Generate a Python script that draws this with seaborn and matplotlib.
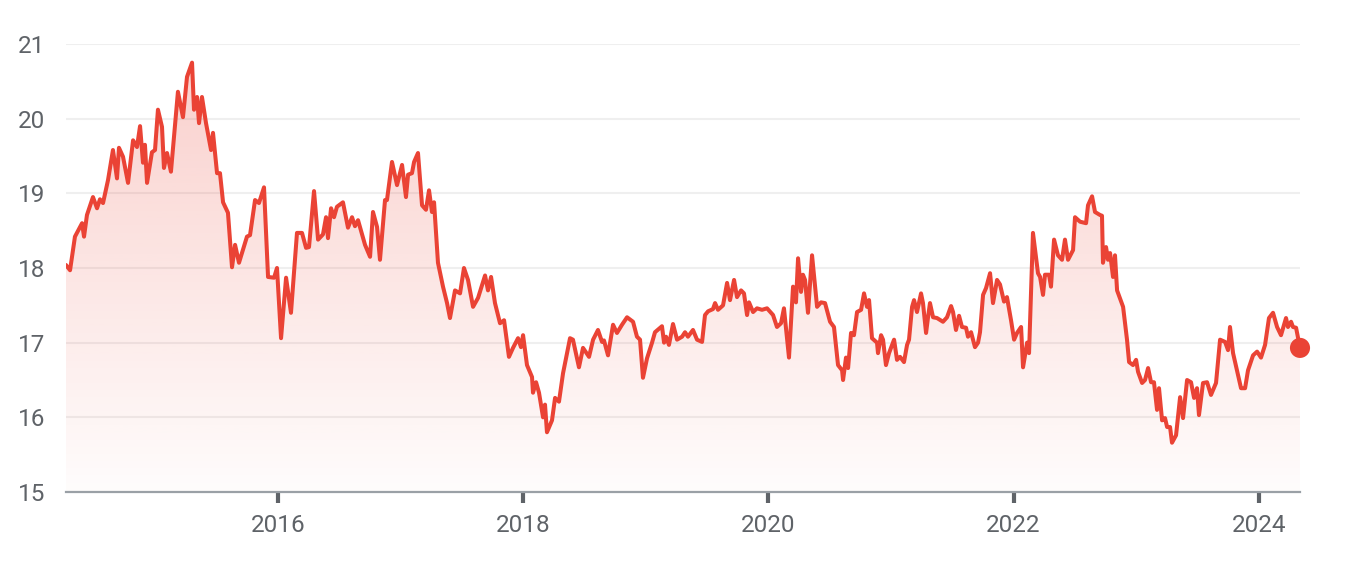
import matplotlib
matplotlib.use("Agg")
import matplotlib.pyplot as plt
import numpy as np
import pandas as pd
import seaborn as sns

years = [
    2014.271, 2014.304, 2014.344, 2014.402, 2014.418, 2014.442, 2014.491, 2014.524, 2014.548, 2014.573,
    2014.614, 2014.654, 2014.687, 2014.703, 2014.736, 2014.777, 2014.818, 2014.850, 2014.875, 2014.899,
    2014.915, 2014.932, 2014.972, 2014.997, 2015.021, 2015.054, 2015.070, 2015.095, 2015.127, 2015.184,
    2015.225, 2015.258, 2015.299, 2015.315, 2015.340, 2015.356, 2015.380, 2015.413, 2015.454, 2015.470,
    2015.503, 2015.527, 2015.552, 2015.592, 2015.625, 2015.650, 2015.682, 2015.747, 2015.772, 2015.813,
    2015.845, 2015.886, 2015.919, 2015.968, 2015.992, 2016.025, 2016.066, 2016.106, 2016.155, 2016.196,
    2016.229, 2016.253, 2016.294, 2016.327, 2016.367, 2016.392, 2016.408, 2016.433, 2016.457, 2016.481,
    2016.530, 2016.571, 2016.604, 2016.628, 2016.653, 2016.710, 2016.751, 2016.775, 2016.808, 2016.832,
    2016.873, 2016.889, 2016.930, 2016.971, 2017.012, 2017.044, 2017.061, 2017.093, 2017.110, 2017.142,
    2017.175, 2017.207, 2017.232, 2017.256, 2017.273, 2017.305, 2017.346, 2017.379, 2017.403, 2017.444,
    2017.485, 2017.517, 2017.550, 2017.591, 2017.632, 2017.689, 2017.713, 2017.738, 2017.770, 2017.811,
    2017.844, 2017.884, 2017.917, 2017.958, 2017.982, 2017.999, 2018.031, 2018.072, 2018.080, 2018.105,
    2018.129, 2018.162, 2018.178, 2018.194, 2018.235, 2018.260, 2018.292, 2018.325, 2018.382, 2018.406,
    2018.455, 2018.488, 2018.537, 2018.570, 2018.610, 2018.643, 2018.659, 2018.692, 2018.733, 2018.765,
    2018.806, 2018.847, 2018.896, 2018.928, 2018.953, 2018.977, 2019.010, 2019.051, 2019.075, 2019.132,
    2019.149, 2019.165, 2019.189, 2019.222, 2019.255, 2019.296, 2019.320, 2019.344, 2019.385, 2019.418,
    2019.459, 2019.483, 2019.508, 2019.548, 2019.565, 2019.589, 2019.630, 2019.663, 2019.687, 2019.720,
    2019.744, 2019.777, 2019.801, 2019.826, 2019.842, 2019.875, 2019.907, 2019.948, 2019.989, 2020.038,
    2020.070, 2020.103, 2020.127, 2020.168, 2020.201, 2020.225, 2020.242, 2020.266, 2020.282, 2020.299,
    2020.323, 2020.356, 2020.397, 2020.429, 2020.462, 2020.503, 2020.535, 2020.568, 2020.601, 2020.609,
    2020.633, 2020.650, 2020.674, 2020.698, 2020.723, 2020.756, 2020.780, 2020.804, 2020.821, 2020.845,
    2020.886, 2020.894, 2020.919, 2020.935, 2020.959, 2020.984, 2021.025, 2021.049, 2021.074, 2021.106,
    2021.131, 2021.147, 2021.172, 2021.188, 2021.212, 2021.245, 2021.261, 2021.286, 2021.302, 2021.318,
    2021.343, 2021.375, 2021.424, 2021.457, 2021.490, 2021.506, 2021.530, 2021.555, 2021.579, 2021.612,
    2021.628, 2021.653, 2021.685, 2021.710, 2021.726, 2021.751, 2021.775, 2021.808, 2021.832, 2021.865,
    2021.889, 2021.922, 2021.946, 2021.979, 2022.004, 2022.028, 2022.061, 2022.077, 2022.110, 2022.126,
    2022.158, 2022.199, 2022.216, 2022.240, 2022.256, 2022.289, 2022.305, 2022.330, 2022.362, 2022.395,
    2022.419, 2022.444, 2022.485, 2022.501, 2022.542, 2022.591, 2022.607, 2022.640, 2022.664, 2022.705,
    2022.721, 2022.729, 2022.754, 2022.770, 2022.787, 2022.811, 2022.827, 2022.844, 2022.893, 2022.925,
    2022.942, 2022.974, 2022.999, 2023.015, 2023.048, 2023.072, 2023.097, 2023.121, 2023.145, 2023.170,
    2023.186, 2023.211, 2023.235, 2023.252, 2023.276, 2023.292, 2023.325, 2023.358, 2023.382, 2023.415,
    2023.447, 2023.472, 2023.496, 2023.512, 2023.545, 2023.578, 2023.610, 2023.651, 2023.684, 2023.725,
    2023.749, 2023.765, 2023.790, 2023.822, 2023.855, 2023.888, 2023.912, 2023.953, 2023.986, 2024.018,
    2024.051, 2024.083, 2024.116, 2024.149, 2024.181, 2024.222, 2024.238, 2024.263, 2024.279, 2024.304,
    2024.336,
]

prices = [
    18.04, 17.97, 18.42, 18.60, 18.42, 18.71, 18.95, 18.80, 18.92, 18.87,
    19.18, 19.58, 19.20, 19.61, 19.49, 19.14, 19.71, 19.62, 19.90, 19.41,
    19.65, 19.14, 19.55, 19.58, 20.12, 19.89, 19.34, 19.54, 19.29, 20.36,
    20.02, 20.56, 20.75, 20.12, 20.29, 19.94, 20.29, 19.94, 19.58, 19.81,
    19.27, 19.27, 18.88, 18.74, 18.01, 18.31, 18.07, 18.42, 18.44, 18.91,
    18.87, 19.08, 17.88, 17.87, 18.00, 17.06, 17.87, 17.40, 18.47, 18.47,
    18.27, 18.28, 19.03, 18.38, 18.45, 18.68, 18.40, 18.80, 18.68, 18.82,
    18.88, 18.54, 18.68, 18.56, 18.64, 18.31, 18.15, 18.75, 18.55, 18.11,
    18.91, 18.91, 19.42, 19.11, 19.38, 18.95, 19.25, 19.27, 19.42, 19.54,
    18.84, 18.78, 19.04, 18.75, 18.88, 18.07, 17.75, 17.53, 17.33, 17.70,
    17.66, 18.00, 17.84, 17.48, 17.60, 17.90, 17.70, 17.88, 17.53, 17.26,
    17.30, 16.81, 16.93, 17.06, 16.94, 17.10, 16.70, 16.54, 16.33, 16.47,
    16.33, 16.00, 16.17, 15.80, 15.96, 16.26, 16.21, 16.59, 17.06, 17.04,
    16.67, 16.93, 16.81, 17.04, 17.17, 17.01, 17.03, 16.83, 17.24, 17.13,
    17.24, 17.34, 17.28, 17.08, 17.04, 16.53, 16.79, 17.00, 17.14, 17.22,
    17.00, 17.08, 16.97, 17.25, 17.04, 17.08, 17.14, 17.08, 17.17, 17.04,
    17.01, 17.37, 17.42, 17.45, 17.53, 17.44, 17.50, 17.80, 17.57, 17.84,
    17.61, 17.70, 17.66, 17.37, 17.54, 17.41, 17.46, 17.44, 17.46, 17.37,
    17.21, 17.26, 17.46, 16.80, 17.75, 17.54, 18.13, 17.68, 17.91, 17.84,
    17.40, 18.17, 17.48, 17.54, 17.53, 17.28, 17.21, 16.70, 16.63, 16.50,
    16.80, 16.66, 17.13, 17.10, 17.41, 17.44, 17.66, 17.48, 17.57, 17.06,
    17.00, 16.86, 17.10, 17.04, 16.70, 16.86, 17.04, 16.77, 16.81, 16.74,
    16.97, 17.04, 17.48, 17.57, 17.41, 17.66, 17.53, 17.13, 17.34, 17.53,
    17.34, 17.33, 17.28, 17.34, 17.49, 17.41, 17.17, 17.36, 17.21, 17.20,
    17.08, 17.14, 16.94, 17.00, 17.14, 17.64, 17.73, 17.93, 17.53, 17.84,
    17.78, 17.55, 17.61, 17.30, 17.04, 17.13, 17.21, 16.67, 17.00, 16.86,
    18.47, 17.93, 17.88, 17.64, 17.91, 17.91, 17.75, 18.38, 18.17, 18.11,
    18.38, 18.11, 18.24, 18.68, 18.62, 18.60, 18.84, 18.96, 18.75, 18.71,
    18.70, 18.07, 18.28, 18.11, 18.20, 17.88, 18.17, 17.70, 17.48, 17.04,
    16.74, 16.70, 16.77, 16.61, 16.46, 16.50, 16.66, 16.47, 16.47, 16.10,
    16.39, 15.96, 15.99, 15.87, 15.87, 15.66, 15.76, 16.27, 15.99, 16.50,
    16.47, 16.26, 16.39, 16.03, 16.46, 16.47, 16.30, 16.46, 17.04, 17.01,
    16.90, 17.21, 16.86, 16.63, 16.39, 16.39, 16.63, 16.83, 16.88, 16.80,
    16.97, 17.33, 17.40, 17.21, 17.10, 17.33, 17.21, 17.28, 17.21, 17.20,
    16.93,
]

x_ticks = [2016, 2018, 2020, 2022, 2024]
x_tick_labels = ["2016", "2018", "2020", "2022", "2024"]
y_ticks = [15, 16, 17, 18, 19, 20, 21]
y_tick_labels = ["15", "16", "17", "18", "19", "20", "21"]

RED = "#EA4335"
LABEL = "#5f6368"

sns.set_theme(style="white")
plt.rcParams["font.family"] = ["Roboto", "DejaVu Sans"]

df = pd.DataFrame({"year": years, "price": prices})

fig = plt.figure(figsize=(13.69, 5.80), dpi=100)
ax = fig.add_axes([66 / 1369, 1 - 492 / 580, (1300 - 66) / 1369, (492 - 44) / 580])

x0, x1 = years[0], years[-1]
ymin, ymax = 15, 21

# gradient fill under the curve
poly = ax.fill_between(df["year"], df["price"], ymin, color="none", lw=0)
top = max(prices)
n = 256
rgba = np.zeros((n, 1, 4))
rgba[..., 0] = 234 / 255
rgba[..., 1] = 67 / 255
rgba[..., 2] = 53 / 255
rgba[:, 0, 3] = np.linspace(0.25, 0.015, n)
im = ax.imshow(rgba, extent=[x0, x1, ymin, top], aspect="auto", origin="upper", zorder=1)
im.set_clip_path(poly.get_paths()[0], transform=ax.transData)

sns.lineplot(data=df, x="year", y="price", ax=ax, color=RED, linewidth=2.9, zorder=3,
             solid_joinstyle="round", solid_capstyle="round")
sns.scatterplot(x=[years[-1]], y=[prices[-1]], ax=ax, color=RED, s=210, edgecolor="none",
                zorder=4, clip_on=False)

ax.set_xlim(x0, x1)
ax.set_ylim(ymin, ymax)
ax.set_yticks(y_ticks)
ax.set_yticklabels(y_tick_labels)
ax.set_xticks(x_ticks)
ax.set_xticklabels(x_tick_labels)
ax.set_xlabel("")
ax.set_ylabel("")

for s in ["top", "right", "left"]:
    ax.spines[s].set_visible(False)
ax.spines["bottom"].set_color("#9aa0a6")
ax.spines["bottom"].set_linewidth(1.6)
ax.spines["bottom"].set_zorder(5)

ax.yaxis.grid(True, color="#efefef", linewidth=1.5, zorder=0)
ax.xaxis.grid(False)
ax.set_axisbelow(True)

ax.tick_params(axis="y", length=0, pad=15, labelsize=17.5, labelcolor=LABEL)
ax.tick_params(axis="x", length=8, width=3, color=LABEL, pad=8, labelsize=17.5,
               labelcolor=LABEL, bottom=True)

fig.savefig("out.png", dpi=100)
